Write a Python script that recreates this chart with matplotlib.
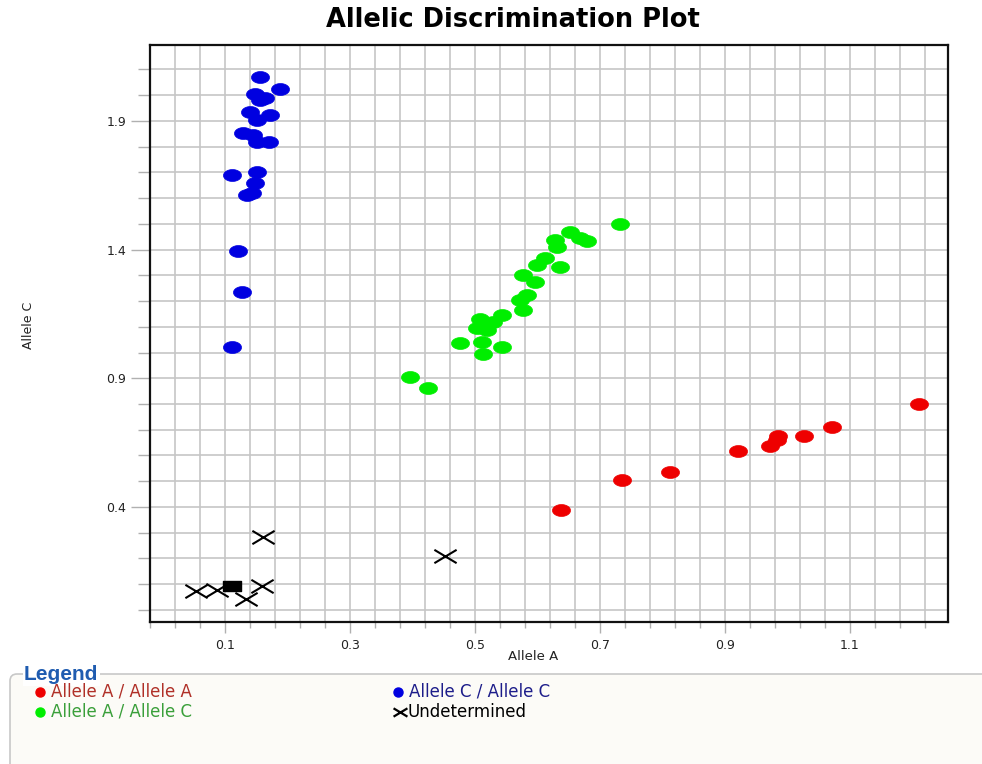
import numpy as np
import matplotlib
matplotlib.use("Agg")
import matplotlib.pyplot as plt
from matplotlib.path import Path
from matplotlib.patches import FancyBboxPatch

plt.rcParams['font.family'] = ['DejaVu Sans']

# Allele A / Allele A (homozygous A)
aa_x = [1.211, 1.071, 1.026, 0.985, 0.983, 0.972, 0.921, 0.812, 0.735, 0.637]
aa_y = [0.800, 0.710, 0.676, 0.676, 0.660, 0.637, 0.619, 0.535, 0.505, 0.388]

# Allele A / Allele C (heterozygous)
ac_x = [0.732, 0.652, 0.668, 0.679, 0.628, 0.631, 0.612, 0.599, 0.636, 0.577,
        0.596, 0.583, 0.572, 0.577, 0.543, 0.508, 0.529, 0.503, 0.519, 0.476,
        0.511, 0.543, 0.513, 0.396, 0.425]
ac_y = [1.499, 1.467, 1.444, 1.435, 1.437, 1.411, 1.366, 1.340, 1.334, 1.301,
        1.275, 1.224, 1.204, 1.165, 1.146, 1.129, 1.120, 1.094, 1.088, 1.038,
        1.042, 1.023, 0.994, 0.906, 0.863]

# Allele C / Allele C (homozygous C)
cc_x = [0.156, 0.188, 0.148, 0.164, 0.156, 0.140, 0.172, 0.151, 0.129, 0.145,
        0.151, 0.170, 0.112, 0.151, 0.148, 0.135, 0.143, 0.121, 0.127, 0.111]
cc_y = [2.069, 2.024, 2.005, 1.988, 1.981, 1.936, 1.923, 1.904, 1.852, 1.845,
        1.817, 1.817, 1.690, 1.703, 1.658, 1.612, 1.618, 1.395, 1.235, 1.022]

# Undetermined calls
und_x = [0.161, 0.452, 0.053, 0.087, 0.159, 0.134]
und_y = [0.285, 0.210, 0.075, 0.078, 0.093, 0.041]

# No template control
ntc_x = [0.111]
ntc_y = [0.094]

x_major = [0.1, 0.3, 0.5, 0.7, 0.9, 1.1]
y_major = [0.4, 0.9, 1.4, 1.9]

# marker shapes: wide ellipse, wide cross, flat square
t = np.linspace(0, 2 * np.pi, 48)
dot = Path(np.column_stack([np.cos(t), 0.66 * np.sin(t)]), closed=True)
cross = Path([(-1, -0.6), (1, 0.6), (-1, 0.6), (1, -0.6)],
             [Path.MOVETO, Path.LINETO, Path.MOVETO, Path.LINETO])
square = Path([(-1, -0.6), (1, -0.6), (1, 0.6), (-1, 0.6), (-1, -0.6)], closed=True)

red, green, blue = '#ee0000', '#00ee00', '#0000e0'

fig = plt.figure(figsize=(9.82, 7.64), dpi=100)
ax = fig.add_axes([150 / 982, 1 - 622 / 764, 798 / 982, 577 / 764])

ax.plot(aa_x, aa_y, linestyle='none', marker=dot, ms=13, mfc=red, mec=red, mew=0.5)
ax.plot(ac_x, ac_y, linestyle='none', marker=dot, ms=13, mfc=green, mec=green, mew=0.5)
ax.plot(cc_x, cc_y, linestyle='none', marker=dot, ms=13, mfc=blue, mec=blue, mew=0.5)
ax.plot(und_x, und_y, linestyle='none', marker=cross, ms=16, mfc='none',
        mec='black', mew=1.5)
ax.plot(ntc_x, ntc_y, linestyle='none', marker=square, ms=12.5, mfc='black', mec='black')

ax.set_xlim(-0.02, 1.257)
ax.set_ylim(-0.047, 2.195)

ax.set_xticks(x_major)
ax.set_xticklabels([f'{v:.1f}' for v in x_major])
ax.set_yticks(y_major)
ax.set_yticklabels([f'{v:.1f}' for v in y_major])
ax.set_xticks(np.arange(-0.02, 1.26, 0.04), minor=True)
ax.set_yticks(np.arange(0.0, 2.15, 0.1), minor=True)

ax.grid(True, which='both', color='#c6c6c6', linewidth=1.2)
ax.set_axisbelow(True)
ax.tick_params(axis='both', which='both', colors='#b0b0b0', labelcolor='#222222',
               labelsize=9, width=1)
ax.tick_params(axis='x', which='major', length=8, pad=4)
ax.tick_params(axis='x', which='minor', length=4)
ax.tick_params(axis='y', which='major', length=14, pad=3)
ax.tick_params(axis='y', which='minor', length=9)
for s in ax.spines.values():
    s.set_color('#111111')
    s.set_linewidth(1.6)

fig.text(513 / 982, 1 - 20 / 764, 'Allelic Discrimination Plot', ha='center',
         va='center', fontsize=18.5, fontweight='bold')
fig.text(533 / 982, 1 - 657 / 764, 'Allele A', ha='center', va='center',
         fontsize=9.5, color='#222222')
fig.text(28 / 982, 1 - 325 / 764, 'Allele C', ha='center', va='center',
         rotation=90, fontsize=9, color='#222222')

# legend group box along the bottom
lg = fig.add_axes([0, 0, 1, 92 / 764])
lg.set_xlim(0, 982)
lg.set_ylim(764, 672)
lg.axis('off')
lg.add_patch(FancyBboxPatch((10, 674), 1100, 200,
                            boxstyle='round,pad=0,rounding_size=7',
                            facecolor='#fcfbf7', edgecolor='#c8c8c8',
                            linewidth=1.2, clip_on=False))
lg.text(24, 675, 'Legend', ha='left', va='center', fontsize=15,
        fontweight='bold', color='#1f5cb0', family='Liberation Sans',
        bbox=dict(facecolor='white', edgecolor='none', pad=1))

legend_items = [
    (40, 692, 'Allele A / Allele A', red, '#b03028', dot),
    (40, 712, 'Allele A / Allele C', green, '#3a9f3a', dot),
    (398, 692, 'Allele C / Allele C', blue, '#1d1d8a', dot),
    (400, 712, 'Undetermined', 'black', 'black', cross),
]
for lx, ly, label, mcol, tcol, mk in legend_items:
    if mk is cross:
        lg.plot([lx], [ly], linestyle='none', marker=mk, ms=10, mfc='none',
                mec=mcol, mew=1.6, clip_on=False)
        lg.text(lx + 8, ly, label, ha='left', va='center', fontsize=12, color=tcol)
    else:
        lg.plot([lx], [ly], linestyle='none', marker='o', ms=6.5, mfc=mcol,
                mec=mcol, clip_on=False)
        lg.text(lx + 11, ly, label, ha='left', va='center', fontsize=12, color=tcol)

fig.savefig('out.png', dpi=100)
